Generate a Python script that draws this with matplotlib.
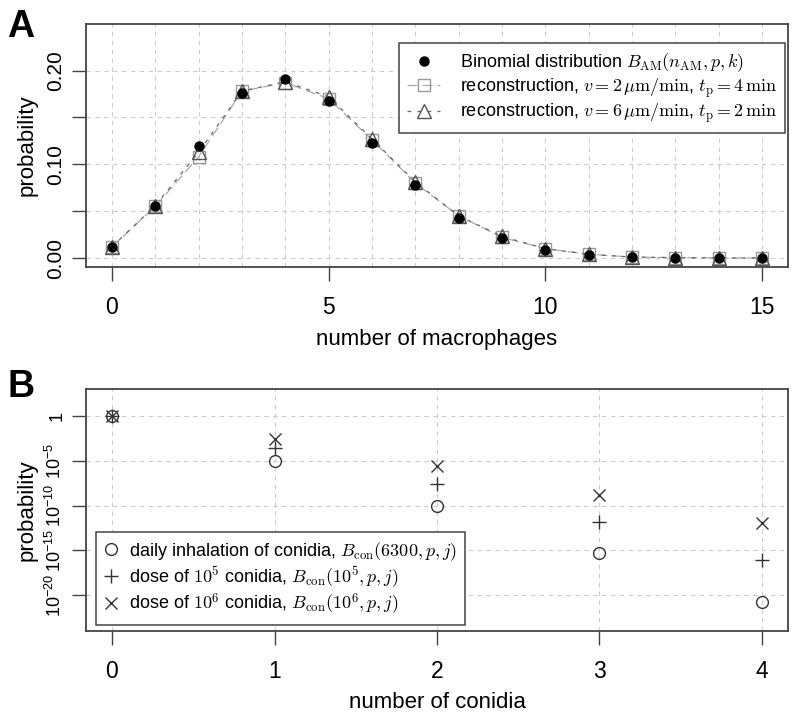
import numpy as np
import matplotlib
matplotlib.use("Agg")
import matplotlib.pyplot as plt
from matplotlib.ticker import FixedLocator, MultipleLocator

plt.rcParams['font.family'] = ['Liberation Sans', 'DejaVu Sans']
plt.rcParams['mathtext.fontset'] = 'cm'
# sans maths for the log tick labels
plt.rcParams['mathtext.rm'] = 'Liberation Sans'
plt.rcParams['mathtext.it'] = 'Liberation Sans:italic'
plt.rcParams['mathtext.bf'] = 'Liberation Sans:bold'

# panel A data
k = np.arange(16)
binom = [0.012, 0.055, 0.120, 0.176, 0.191, 0.168, 0.123, 0.078,
         0.043, 0.021, 0.009, 0.003, 0.001, 0.0003, 0.0001, 0.0]
recon_v2 = [0.012, 0.055, 0.108, 0.178, 0.187, 0.170, 0.126, 0.080,
            0.045, 0.022, 0.010, 0.004, 0.001, 0.0004, 0.0001, 0.0]
recon_v6 = [0.012, 0.056, 0.113, 0.178, 0.188, 0.172, 0.127, 0.081,
            0.045, 0.023, 0.010, 0.004, 0.001, 0.0004, 0.0001, 0.0]

# panel B data
j = np.arange(5)
daily = [1.0, 1e-5, 8e-11, 5e-16, 1.6e-21]
dose5 = [1.0, 2.5e-4, 2.5e-8, 1.6e-12, 8e-17]
dose6 = [1.0, 2.5e-3, 2.5e-6, 1.6e-9, 1e-12]

W, H = 794, 719
fig = plt.figure(figsize=(W / 100, H / 100), dpi=100)

def px_axes(l, t, r, b):
    return fig.add_axes([l / W, 1 - b / H, (r - l) / W, (b - t) / H])

box = '#444444'
grid_kw = dict(color='#cccccc', linestyle=(0, (4, 4)), linewidth=0.8)

def style(ax, ysize):
    for s in ax.spines.values():
        s.set_color(box)
        s.set_linewidth(1.3)
    ax.tick_params(which='major', direction='out', length=10, width=1.0,
                   color=box)
    ax.tick_params(axis='x', which='major', pad=11, labelsize=16.5)
    ax.tick_params(axis='y', which='major', pad=5, labelsize=ysize)
    ax.tick_params(which='minor', length=0)
    for lab in ax.get_yticklabels():
        lab.set_rotation(90)
        lab.set_va('center')

def labels(ax, xl, top, bottom):
    h = bottom - top
    ax.set_xlabel(xl, fontsize=16, va='center')
    ax.xaxis.set_label_coords(0.5, -(72 / h))
    ax.set_ylabel('probability', fontsize=16, va='center')
    ax.yaxis.set_label_coords(-59 / 702, 0.5)

# ---- A ----
axA = px_axes(86, 24, 788, 267)
axA.plot(k, recon_v2, color='#aaaaaa', linewidth=0.9,
         marker='s', markersize=9, markerfacecolor='none',
         markeredgecolor='#999999', dashes=(8, 4),
         label=r'reconstruction, $v=2\,\mu\mathrm{m/min}$, $t_{\mathrm{p}}=4\,\mathrm{min}$')
axA.plot(k, recon_v6, color='#666666', linewidth=0.9,
         marker='^', markersize=10.5, markerfacecolor='none',
         markeredgecolor='#555555', dashes=(3, 5),
         label=r'reconstruction, $v=6\,\mu\mathrm{m/min}$, $t_{\mathrm{p}}=2\,\mathrm{min}$')
axA.plot(k, binom, linestyle='none', marker='o', markersize=6.5,
         color='black', label=r'Binomial distribution $B_{\mathrm{AM}}(n_{\mathrm{AM}},p,k)$')
axA.set_xlim(-0.6, 15.6)
axA.set_ylim(-0.0096, 0.2496)
axA.xaxis.set_major_locator(FixedLocator([0, 5, 10, 15]))
axA.xaxis.set_minor_locator(MultipleLocator(1))
axA.yaxis.set_major_locator(FixedLocator([0, 0.05, 0.1, 0.15, 0.2]))
axA.set_yticklabels(['0.00', '', '0.10', '', '0.20'])
axA.grid(True, which='both', **grid_kw)
axA.set_axisbelow(True)
style(axA, 15)
labels(axA, 'number of macrophages', 24, 267)
h, l = axA.get_legend_handles_labels()
legA = axA.legend([h[2], h[0], h[1]], [l[2], l[0], l[1]], loc='upper right',
                  bbox_to_anchor=(0.996, 0.922), borderaxespad=0, fontsize=13,
                  fancybox=False, edgecolor=box, framealpha=1, handlelength=1.8,
                  borderpad=0.45, labelspacing=0.1, handletextpad=1.1)
legA.get_frame().set_linewidth(1.1)
fig.text(21 / W, 1 - 27 / H, 'A', fontsize=27, fontweight='bold',
         ha='center', va='center')

# ---- B ----
axB = px_axes(86, 389, 788, 631)
axB.set_yscale('log')
axB.plot(j, daily, linestyle='none', marker='o', markersize=8.5,
         markerfacecolor='none', markeredgecolor='#333333', markeredgewidth=1.0,
         label=r'daily inhalation of conidia, $B_{\mathrm{con}}(6300,p,j)$')
axB.plot(j, dose5, linestyle='none', marker='+', markersize=10,
         color='#333333', markeredgewidth=1.0,
         label=r'dose of $10^5$ conidia, $B_{\mathrm{con}}(10^5,p,j)$')
axB.plot(j, dose6, linestyle='none', marker='x', markersize=8,
         color='#333333', markeredgewidth=1.0,
         label=r'dose of $10^6$ conidia, $B_{\mathrm{con}}(10^6,p,j)$')
axB.set_xlim(-0.16, 4.16)
axB.set_ylim(1e-24, 1e3)
axB.xaxis.set_major_locator(FixedLocator([0, 1, 2, 3, 4]))
yt = [1, 1e-5, 1e-10, 1e-15, 1e-20]
axB.yaxis.set_major_locator(FixedLocator(yt))
axB.yaxis.set_minor_locator(FixedLocator([]))
axB.set_yticklabels(['1', '10$^{\\mathregular{-5}}$', '10$^{\\mathregular{-10}}$',
                     '10$^{\\mathregular{-15}}$', '10$^{\\mathregular{-20}}$'],
                    math_fontfamily='custom')
axB.grid(True, which='major', **grid_kw)
axB.set_axisbelow(True)
style(axB, 13)
labels(axB, 'number of conidia', 389, 631)
legB = axB.legend(loc='lower left', bbox_to_anchor=(0.014, 0.025), borderaxespad=0,
                  fontsize=13, fancybox=False, edgecolor=box, framealpha=1,
                  handlelength=0.8, borderpad=0.45, labelspacing=0.1,
                  handletextpad=0.6)
legB.get_frame().set_linewidth(1.1)
fig.text(21 / W, 1 - 387 / H, 'B', fontsize=27, fontweight='bold',
         ha='center', va='center')

fig.savefig('out.png', dpi=100)
